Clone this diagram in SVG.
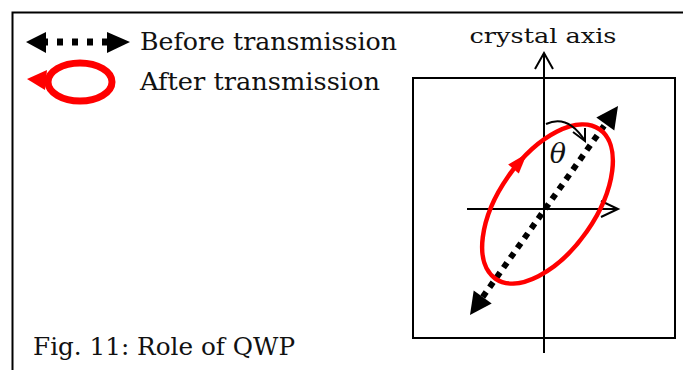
<svg xmlns="http://www.w3.org/2000/svg" width="683" height="370" viewBox="0 0 683 370">
<style>
text{font-family:"DejaVu Serif","Liberation Serif",serif;fill:#111}
.ln{stroke:#000;stroke-width:2;fill:none}
.dot{stroke:#000;fill:none}
.red{stroke:#f00;fill:none}
.head{fill:#000}
.rhead{fill:#f00}
</style>
<rect width="683" height="370" fill="#fff"/>
<rect x="12.5" y="12.5" width="700" height="400" class="ln"/>

<g id="legend-before">
  <line x1="42" y1="42" x2="109" y2="42" class="dot" stroke-width="7" stroke-dasharray="6 9"/>
  <polygon points="26,42 46,32 46,53" class="head"/>
  <polygon points="130,42 107,32 107,53" class="head"/>
  <text x="140" y="50" font-size="24" textLength="257" lengthAdjust="spacingAndGlyphs">Before transmission</text>
</g>

<g id="legend-after">
  <ellipse cx="80" cy="82" rx="32" ry="19" class="red" stroke-width="7"/>
  <polygon points="27,79 47,70 45,90" class="rhead"/>
  <text x="140" y="90" font-size="24" textLength="240" lengthAdjust="spacingAndGlyphs">After transmission</text>
</g>

<g id="plate">
  <rect x="413" y="78" width="262" height="260" class="ln"/>
</g>

<g id="axes">
  <line x1="544" y1="54" x2="544" y2="353" class="ln"/>
  <polyline points="535,69 544,53 553,69" class="ln"/>
  <line x1="467" y1="209" x2="617" y2="209" class="ln"/>
  <polyline points="601,201 618,209 601,217" class="ln"/>
  <text x="543" y="43" font-size="21" text-anchor="middle" textLength="147" lengthAdjust="spacingAndGlyphs">crystal axis</text>
</g>

<g id="before-polarization">
  <line x1="482.7" y1="297" x2="605.3" y2="124" class="dot" stroke-width="6" stroke-dasharray="6 6"/>
  <polygon points="618,106 614.3,130.4 596.3,117.6" class="head"/>
  <polygon points="470,315 491.7,303.4 473.7,290.6" class="head"/>
</g>

<g id="after-polarization">
  <ellipse cx="547.5" cy="204" rx="48" ry="91" transform="rotate(35 547.5 204)" class="red" stroke-width="4.5"/>
  <polygon points="527,153.5 518.8,173.6 508.2,164.4" class="rhead"/>
</g>

<g id="theta">
  <path d="M546,124 Q568,114 585,141" class="ln" stroke-width="1.6"/>
  <polyline points="573,132 585,141 585,128" class="ln" stroke-width="1.6"/>
  <text x="558" y="163" font-size="27" font-style="italic" text-anchor="middle">θ</text>
</g>

<g id="caption">
  <text x="33" y="355" font-size="24" textLength="262" lengthAdjust="spacingAndGlyphs">Fig. 11: Role of QWP</text>
</g>
</svg>
